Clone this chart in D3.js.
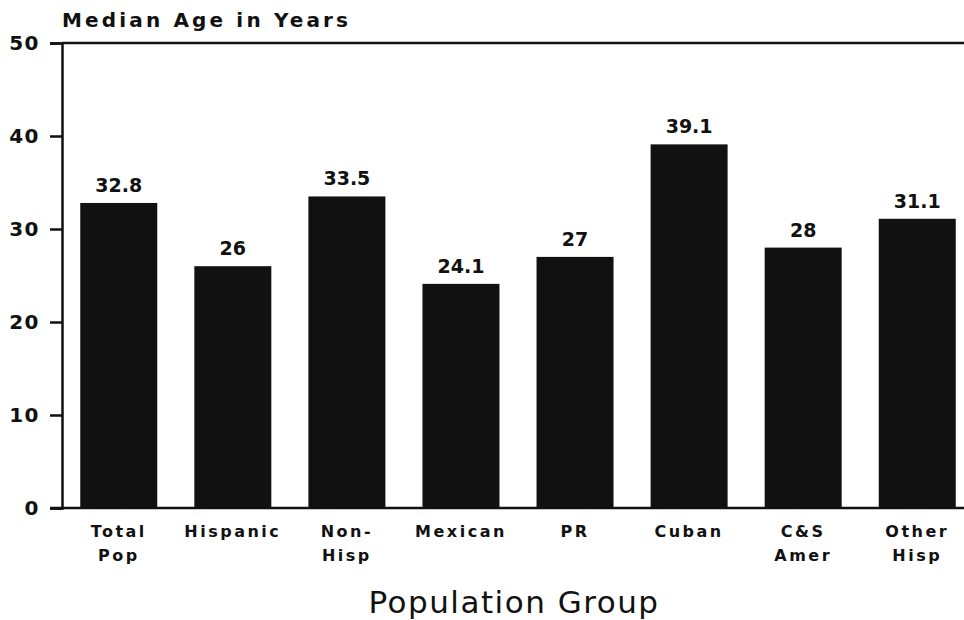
<!DOCTYPE html>
<html><head><meta charset="utf-8">
<script src="https://cdn.jsdelivr.net/npm/d3@7"></script>
<style>body{margin:0;background:#fff}svg{display:block}</style>
</head><body>
<svg id="c" width="964" height="620"></svg>
<script>
const categories = ["Total Pop","Hispanic","Non-Hisp","Mexican","PR","Cuban","C&S Amer","Other Hisp"];
const labelLines = [["Total","Pop"],["Hispanic"],["Non-","Hisp"],["Mexican"],["PR"],["Cuban"],["C&S","Amer"],["Other","Hisp"]];
const values = [32.8, 26, 33.5, 24.1, 27, 39.1, 28, 31.1];
const valueLabels = ["32.8","26","33.5","24.1","27","39.1","28","31.1"];
const yTicks = [0,10,20,30,40,50];

const svg = d3.select("#c");
const x0 = 62, yTop = 43, yBot = 508;
const x = d3.scaleBand().domain(categories).range([x0, 974]).paddingInner(0.325).paddingOuter(0.16);
const y = d3.scaleLinear().domain([0,50]).range([yBot, yTop]);
const font = "'DejaVu Sans', sans-serif";

// bars
svg.selectAll("rect.bar").data(values).join("rect")
  .attr("class","bar")
  .attr("x",(d,i)=>x(categories[i]))
  .attr("width",x.bandwidth())
  .attr("y",d=>y(d))
  .attr("height",d=>y(0)-y(d))
  .attr("fill","#111");

// y axis
const yAxis = d3.axisLeft(y).tickValues(yTicks).tickSize(12).tickPadding(10);
const ga = svg.append("g").attr("transform",`translate(${x0},0)`).call(yAxis);
ga.select(".domain").attr("stroke","#111").attr("stroke-width",2.5);
ga.selectAll(".tick line").attr("stroke","#111").attr("stroke-width",2.5);
ga.selectAll(".tick text").attr("font-family",font).attr("font-weight","bold")
  .attr("font-size",20).attr("fill","#111").attr("letter-spacing",1.5);

// top and bottom lines
svg.append("line").attr("x1",x0).attr("x2",964).attr("y1",y(50)).attr("y2",y(50))
  .attr("stroke","#111").attr("stroke-width",2.5);
svg.append("line").attr("x1",x0-12).attr("x2",964).attr("y1",y(0)).attr("y2",y(0))
  .attr("stroke","#111").attr("stroke-width",2.5);

// value labels
svg.selectAll("text.val").data(values).join("text")
  .attr("class","val")
  .attr("x",(d,i)=>x(categories[i])+x.bandwidth()/2)
  .attr("y",d=>y(d)-11)
  .attr("text-anchor","middle")
  .attr("font-family",font).attr("font-weight","bold").attr("font-size",19).attr("fill","#111")
  .text((d,i)=>valueLabels[i]);

// category labels
const gl = svg.selectAll("g.cat").data(categories).join("g").attr("class","cat")
  .attr("transform",(d)=>`translate(${x(d)+x.bandwidth()/2},0)`);
gl.each(function(d,i){
  labelLines[i].forEach((ln,j)=>{
    d3.select(this).append("text")
      .attr("x",0).attr("y",537+j*24)
      .attr("text-anchor","middle")
      .attr("font-family",font).attr("font-weight","bold").attr("font-size",16)
      .attr("letter-spacing",2.5).attr("fill","#111").text(ln);
  });
});

// title
svg.append("text").attr("x",62).attr("y",27)
  .attr("font-family",font).attr("font-weight","bold").attr("font-size",20)
  .attr("textLength",286).attr("lengthAdjust","spacing").attr("fill","#111")
  .text("Median Age in Years");

// x title
svg.append("text").attr("x",514).attr("y",613).attr("text-anchor","middle")
  .attr("font-family",font).attr("font-size",31).attr("letter-spacing",1.5).attr("fill","#111")
  .text("Population Group");
</script>
</body></html>
